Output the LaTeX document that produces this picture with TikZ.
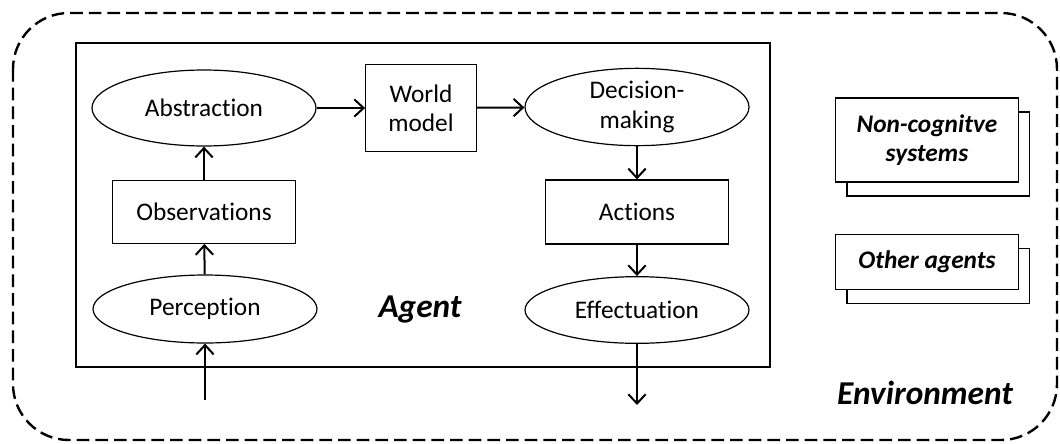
\documentclass[tikz,border=0pt]{standalone}
\usepackage{fontspec}
\setmainfont{Carlito}[Ligatures=NoCommon]
\usetikzlibrary{arrows.meta, shapes.geometric, shadows, positioning}

\begin{document}
\begin{tikzpicture}[x=0.75pt, y=-0.75pt,
	every node/.style={font=\fontsize{19}{22}\selectfont},
	proc/.style={draw, ellipse, line width=0.9pt, inner sep=0pt, minimum width=168pt, align=center},
	box/.style={draw, rectangle, line width=0.9pt, inner sep=0pt, align=center},
	stack/.style={box, fill=white, minimum width=137pt, font=\fontsize{19}{22}\selectfont\bfseries\itshape,
		copy shadow={shadow xshift=8.5pt, shadow yshift=-10.5pt, draw, fill=white, line width=0.9pt}},
	title/.style={font=\fontsize{25}{30}\selectfont\bfseries\itshape},
	flow/.style={-{Straight Barb[length=7pt, width=13pt]}, line width=1.5pt}]
	
	\useasboundingbox (0,0) rectangle (1060,443);
	
	% Environment and agent borders
	\draw[line width=1.8pt, dash pattern=on 9.5pt off 4.5pt, rounded corners=42pt] (13,13) rectangle (1057,440);
	\draw[line width=0.9pt] (76,43) rectangle (770,367);
	
	% Perception side
	\node[proc, minimum height=57pt] (abstraction) at (204,108) {Abstraction};
	\node[box, minimum width=137pt, minimum height=47pt] (observations) at (204,212) {Observations};
	\node[proc, minimum height=51pt] (perception) at (205,309) {Perception};
	
	% World model
	\node[box, minimum width=83pt, minimum height=65pt] (world) at (421,108) {World\\model};
	
	% Action side
	\node[proc, minimum height=58pt] (decision) at (637,107) {Decision-\\making};
	\node[box, minimum width=137pt, minimum height=48pt] (actions) at (637,212) {Actions};
	\node[proc, minimum height=50pt] (effectuation) at (637,310) {Effectuation};
	
	% Labels
	\node[title] (agent) at (420,309) {Agent};
	\node[title] (environment) at (925,393) {Environment};
	
	% Other things in the environment
	\node[stack, minimum height=63pt] (noncog) at (927,140) {Non-cognitve\\systems};
	\node[stack, minimum height=41pt] (others) at (927,262) {Other agents};
	
	% Flow
	\coordinate (input) at (205,400);
	\coordinate (output) at (637,405);
	\draw[flow] (input) -- (perception);
	\draw[flow] (perception) -- (observations);
	\draw[flow] (observations) -- (abstraction);
	\draw[flow] (abstraction) -- (world);
	\draw[flow] (world) -- (decision);
	\draw[flow] (decision) -- (actions);
	\draw[flow] (actions) -- (effectuation);
	\draw[flow] (effectuation) -- (output);
	
\end{tikzpicture}
\end{document}
